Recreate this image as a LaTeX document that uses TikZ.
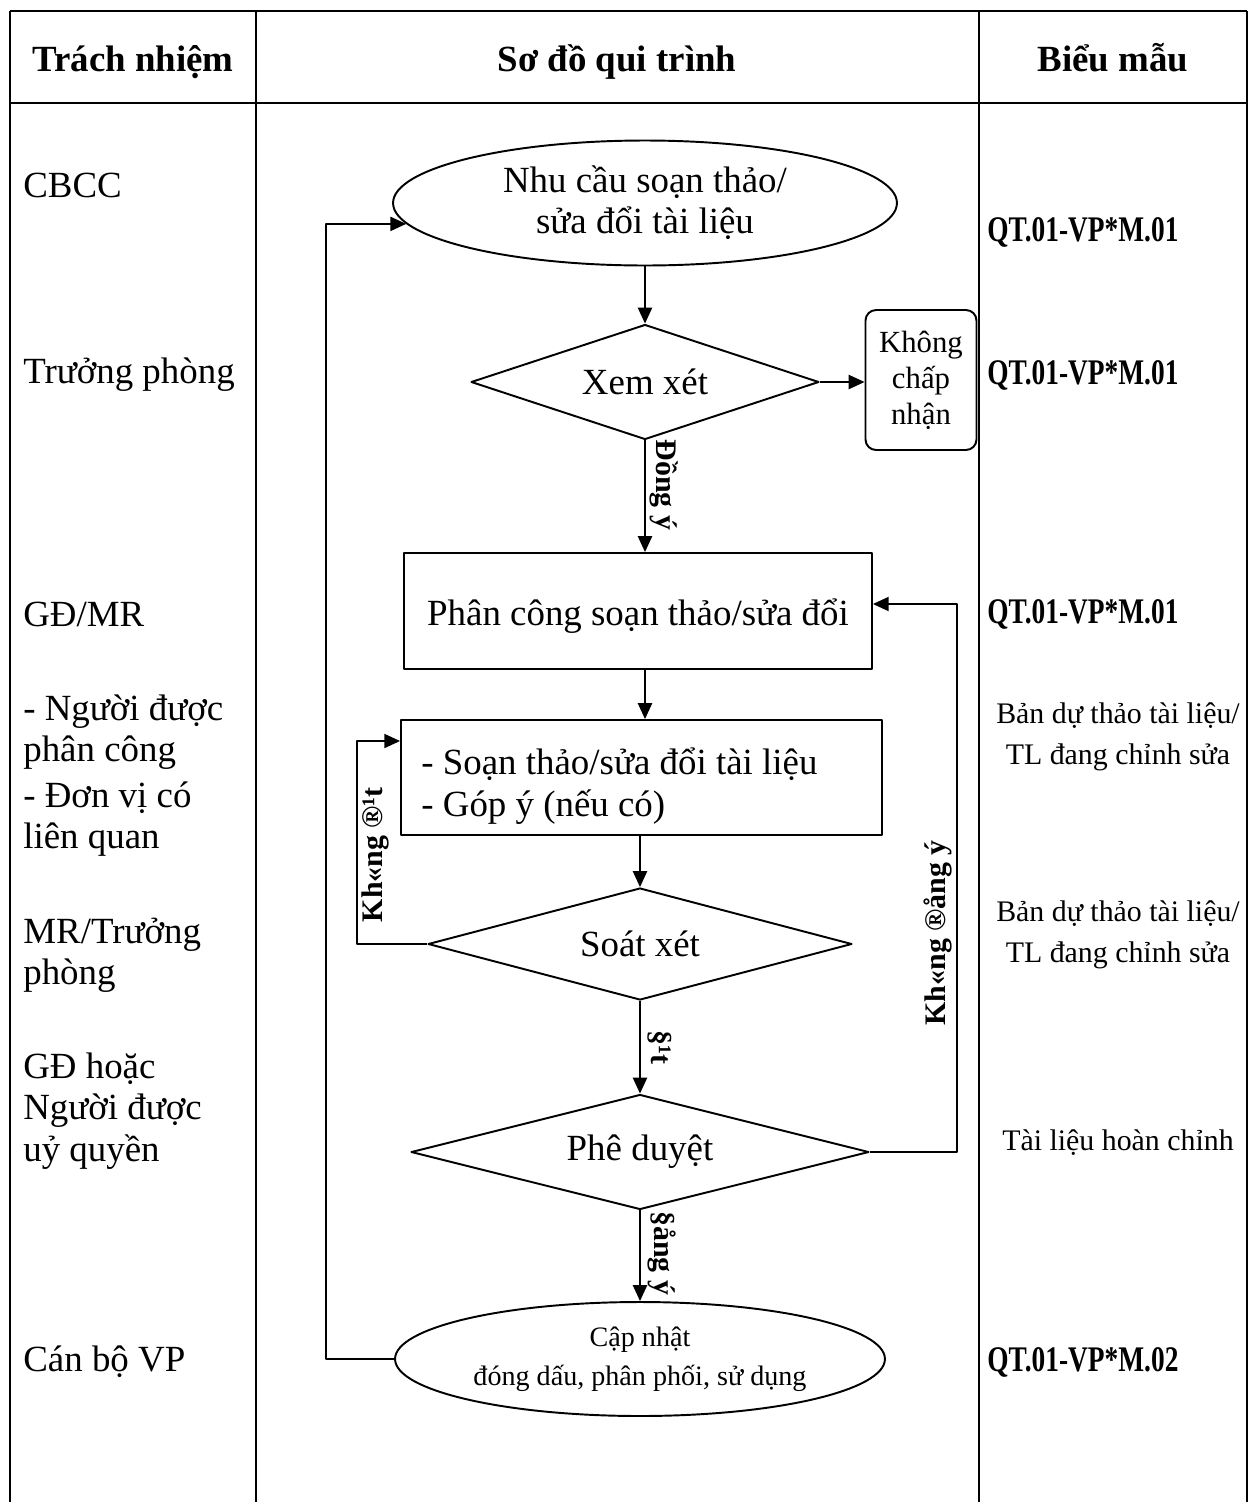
\documentclass[tikz,border=0pt]{standalone}
\usepackage{fontspec}
\setmainfont{Liberation Serif}
\newfontfamily\codefont[FakeStretch=0.76]{Liberation Serif Bold}
\usetikzlibrary{shapes.geometric,arrows.meta}

\begin{document}
\begin{tikzpicture}[x=0.02cm, y=-0.02cm, line join=round,
    >={Triangle[length=9pt,width=8pt]},
    khung/.style={line width=1.5pt},
    duong/.style={line width=1.1pt},
    chu/.style={font=\fontsize{21}{23.5}\selectfont},
    tieude/.style={font=\fontsize{21}{24}\selectfont\bfseries, anchor=base},
    cot/.style={chu, anchor=west, align=left, inner sep=0pt},
    ma/.style={font=\codefont\fontsize{20.5}{22}\selectfont, anchor=west, inner sep=0pt},
    mau/.style={font=\fontsize{17}{23.5}\selectfont, align=center, inner sep=0pt},
    elip/.style={ellipse, draw, duong, chu, align=center, inner sep=0pt},
    thoi/.style={diamond, draw, duong, chu, aspect=4, inner sep=0pt},
    hop/.style={rectangle, draw, duong, chu, inner sep=0pt},
    nhan/.style={font=\fontsize{17}{20}\selectfont\bfseries, inner sep=2pt}]
  \useasboundingbox (0,0) rectangle (1249,1502);

  % 1. Khung bảng
  \draw[khung] (10,11) -- (1247,11);
  \draw[khung] (10,103) -- (1247,103);
  \foreach \x in {10,256,979,1247}
    \draw[khung] (\x,11) -- (\x,1502);

  % 2. Tiêu đề cột
  \node[tieude] (h1) at (133,71) {Trách nhiệm};
  \node[tieude] (h2) at (617,71) {Sơ đồ qui trình};
  \node[tieude] (h3) at (1113,71) {Biểu mẫu};

  % 3. Cột trách nhiệm
  \node[cot] (tn1) at (23,185) {CBCC};
  \node[cot] (tn2) at (23,375) {Trưởng phòng};
  \node[cot] (tn3) at (23,614) {GĐ/MR};
  \node[cot] (tn4) at (23,732) {- Người được\\phân công};
  \node[cot] (tn5) at (23,819) {- Đơn vị có\\liên quan};
  \node[cot] (tn6) at (23,955) {MR/Trưởng\\phòng};
  \node[cot] (tn7) at (23,1111) {GĐ hoặc\\Người được\\uỷ quyền};
  \node[cot] (tn8) at (23,1362) {Cán bộ VP};

  % 4. Cột biểu mẫu
  \node[ma] (bm1) at (987,232) {QT.01-VP*M.01};
  \node[ma] (bm2) at (987,375) {QT.01-VP*M.01};
  \node[ma] (bm3) at (987,614) {QT.01-VP*M.01};
  \node[mau] (bm4) at (1118,737) {Bản dự thảo tài liệu/\\TL đang chỉnh sửa};
  \node[mau] (bm5) at (1118,935) {Bản dự thảo tài liệu/\\TL đang chỉnh sửa};
  \node[mau] (bm6) at (1118,1143) {Tài liệu hoàn chỉnh};
  \node[ma] (bm7) at (987,1362) {QT.01-VP*M.02};

  % 5. Sơ đồ qui trình
  \node[elip, minimum width=10.08cm, minimum height=2.5cm] (nc) at (645,203)
    {Nhu cầu soạn thảo/\\sửa đổi tài liệu};
  \node[thoi, minimum width=6.96cm, minimum height=2.3cm] (xx) at (645,382) {Xem xét};
  \node[hop, rounded corners=6pt, align=center, minimum width=2.22cm, minimum height=2.8cm,
    font=\fontsize{17.5}{20.5}\selectfont] (kcn) at (921,380) {Không\\chấp\\nhận};
  \node[hop, minimum width=9.36cm, minimum height=2.32cm] (pc) at (638,611) {};
  \node[chu, inner sep=0pt] (pcc) at (638,616) {Phân công soạn thảo/sửa đổi};
  \node[hop, minimum width=9.62cm, minimum height=2.3cm] (st) at (641.5,777.5) {};
  \node[chu, align=left, anchor=west, inner sep=0pt] (stc) at (421,786)
    {- Soạn thảo/sửa đổi tài liệu\\- Góp ý (nếu có)};
  \node[thoi, minimum width=8.48cm, minimum height=2.24cm] (sx) at (640,944) {Soát xét};
  \node[thoi, minimum width=9.16cm, minimum height=2.3cm] (pd) at (640,1152) {Phê duyệt};
  \node[elip, minimum width=9.8cm, minimum height=2.28cm, font=\fontsize{16}{22}\selectfont]
    (cn) at (640,1359) {Cập nhật\\đóng dấu, phân phối, sử dụng};

  % 6. Đường nối
  \coordinate (k1) at (357,741);
  \coordinate (k2) at (957,604);
  \coordinate (k3) at (326,1359);
  \draw[duong, ->] (nc) -- (xx);
  \draw[duong, ->] (xx.east) -- (xx.east -| kcn.west);
  \draw[duong, ->] (xx.south) -- (xx.south |- pc.north)
    node[nhan, pos=0.4, anchor=south, rotate=-90] {Đồng ý};
  \draw[duong, ->] (xx.south |- pc.south) -- (xx.south |- st.north);
  \draw[duong, ->] (sx.north |- st.south) -- (sx.north);
  \draw[duong, ->] (sx.west) -| (k1)
    node[nhan, pos=0.72, anchor=north, rotate=90] {Kh«ng ®¹t}
    -- (k1 -| st.west);
  \draw[duong, ->] (sx.south) -- (pd.north)
    node[nhan, pos=0.5, anchor=south, rotate=-90, inner sep=4pt] {§¹t};
  \draw[duong, ->] (pd.east) -| (k2)
    node[nhan, pos=0.7, anchor=south, rotate=90] {Kh«ng ®ång ý}
    -- (k2 -| pc.east);
  \draw[duong, ->] (pd.south) -- (cn.north)
    node[nhan, pos=0.47, anchor=south, rotate=-90, inner sep=4pt] {§ång ý};
  \draw[duong, ->] (cn.west) -- (k3) |- (nc.185);
\end{tikzpicture}
\end{document}
